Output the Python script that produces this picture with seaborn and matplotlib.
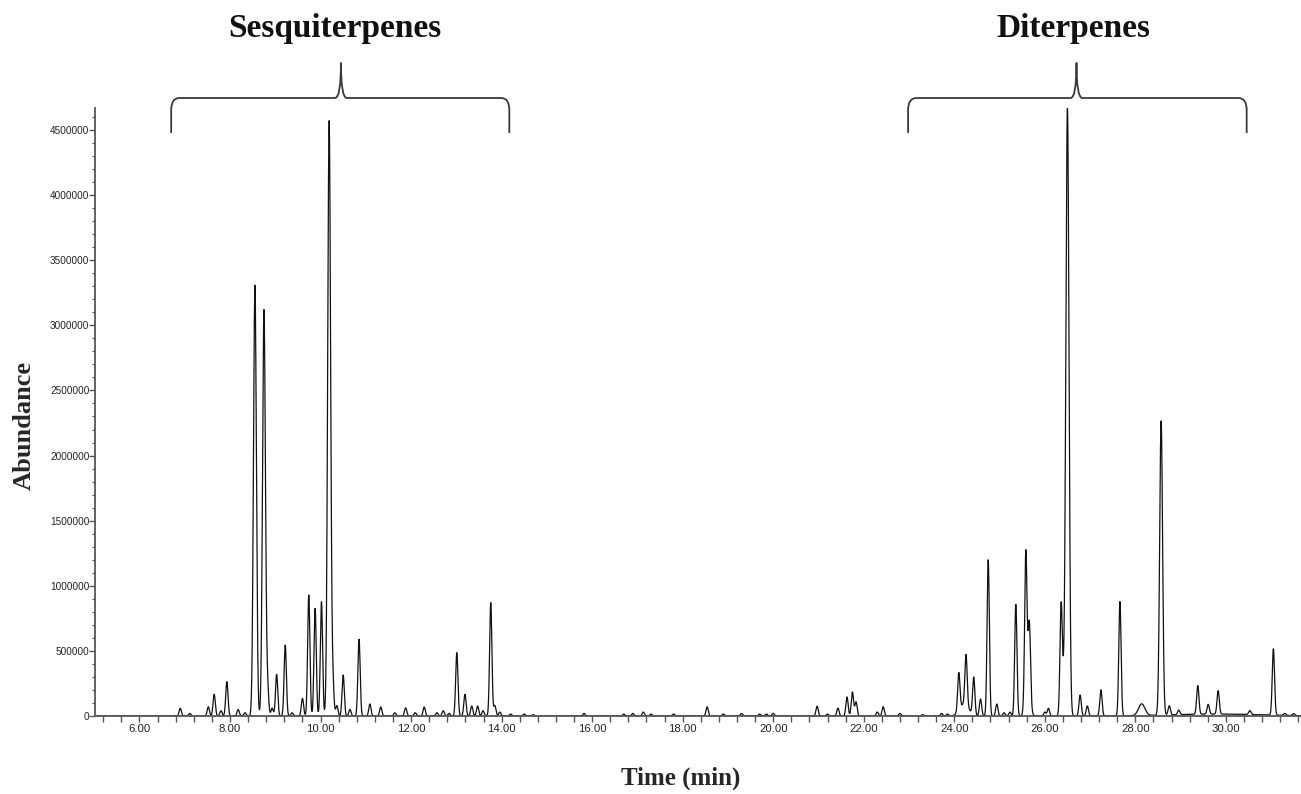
import numpy as np
import pandas as pd
import matplotlib
matplotlib.use("Agg")
import matplotlib.pyplot as plt
import seaborn as sns
from matplotlib.path import Path
from matplotlib.patches import PathPatch
from matplotlib.ticker import MultipleLocator, FormatStrFormatter
from matplotlib import transforms
from matplotlib import font_manager

# ---------------- data ----------------
# Sesquiterpene region peaks (retention time in min, abundance)
sesq_times = [6.90, 7.11, 7.52, 7.65, 7.80, 7.93, 8.18, 8.33, 8.55, 8.75,
              8.83, 8.93, 9.03, 9.22, 9.37, 9.60, 9.74, 9.88, 10.02, 10.19,
              10.27, 10.36, 10.50, 10.65, 10.85, 11.09, 11.33, 11.64, 11.88,
              12.09, 12.29, 12.57, 12.71, 12.84, 13.01, 13.19, 13.34, 13.47,
              13.59, 13.76, 13.85, 13.96]
sesq_heights = [59e3, 20e3, 71e3, 167e3, 40e3, 264e3, 50e3, 25e3, 3310e3, 3120e3,
                200e3, 60e3, 320e3, 545e3, 25e3, 136e3, 929e3, 827e3, 878e3, 4570e3,
                253e3, 80e3, 315e3, 50e3, 589e3, 92e3, 69e3, 25e3, 63e3,
                25e3, 69e3, 25e3, 40e3, 20e3, 486e3, 167e3, 77e3, 77e3,
                40e3, 870e3, 80e3, 30e3]
sesq_widths = [0.025] * 8 + [0.032, 0.032] + [0.025] * 9 + [0.032] + [0.025] * 22

# Minor peaks between the two groups
mid_times = [14.20, 14.50, 14.70, 15.82, 16.70, 16.90, 17.13, 17.30, 17.80,
             18.54, 18.90, 19.30, 19.70, 19.85, 20.00, 20.97, 21.20, 21.43,
             21.63, 21.75, 21.83, 22.30, 22.43, 22.80, 23.30, 23.72, 23.85]
mid_heights = [15e3, 15e3, 10e3, 20e3, 15e3, 20e3, 30e3, 15e3, 15e3,
               70e3, 15e3, 20e3, 15e3, 15e3, 20e3, 75e3, 15e3, 60e3,
               146e3, 184e3, 108e3, 30e3, 71e3, 20e3, 10e3, 20e3, 15e3]
mid_widths = [0.025] * len(mid_times)

# Diterpene region peaks
dit_times = [24.10, 24.26, 24.43, 24.58, 24.75, 24.94, 25.10, 25.23, 25.36,
             25.58, 25.66, 26.00, 26.08, 26.36, 26.50, 26.78, 26.94, 27.24,
             27.66, 28.14, 28.57, 28.75, 28.96, 29.38, 29.61, 29.83, 30.53,
             31.05, 31.30, 31.50]
dit_heights = [290e3, 390e3, 290e3, 130e3, 1200e3, 92e3, 25e3, 30e3, 858e3,
               1090e3, 540e3, 30e3, 59e3, 750e3, 4660e3, 161e3, 77e3, 200e3,
               878e3, 90e3, 2260e3, 70e3, 35e3, 220e3, 75e3, 180e3, 30e3,
               510e3, 15e3, 15e3]
dit_widths = [0.025] * 14 + [0.035] + [0.025] * 4 + [0.07] + [0.032] + [0.025] * 9

# Broad underlying humps / baseline drift
hump_times = [24.22, 25.62, 26.40, 29.80]
hump_heights = [90e3, 250e3, 200e3, 15e3]
hump_widths = [0.10, 0.05, 0.04, 1.00]

x_major = [6.00, 8.00, 10.00, 12.00, 14.00, 16.00, 18.00, 20.00, 22.00,
           24.00, 26.00, 28.00, 30.00]
y_major = [0, 500000, 1000000, 1500000, 2000000, 2500000, 3000000,
           3500000, 4000000, 4500000]

groups = ["Sesquiterpenes", "Diterpenes"]

# ---------------- build trace ----------------
peaks = pd.DataFrame({
    "rt": sesq_times + mid_times + dit_times + hump_times,
    "h": sesq_heights + mid_heights + dit_heights + hump_heights,
    "w": sesq_widths + mid_widths + dit_widths + hump_widths,
})
t = np.arange(5.0, 31.8, 0.003)
signal = np.zeros_like(t)
for rt, h, w in peaks[["rt", "h", "w"]].itertuples(index=False):
    signal += h * np.exp(-0.5 * ((t - rt) / w) ** 2)
trace = pd.DataFrame({"Time (min)": t, "Abundance": signal})

# ---------------- plot ----------------
sns.set_theme(style="ticks")
plt.rcParams["font.family"] = ["Liberation Sans", "DejaVu Sans"]

available = {f.name for f in font_manager.fontManager.ttflist}
narrow = "Liberation Sans Narrow" in available
ytick_family = "Liberation Sans Narrow" if narrow else "Liberation Sans"
ytick_size = 8.3 if narrow else 7.2

W, H = 1301, 794
fig = plt.figure(figsize=(W / 100, H / 100), dpi=100)
ax = fig.add_axes([95 / W, 1 - 716 / H, 1 - 95 / W, (716 - 108) / H])

sns.lineplot(data=trace, x="Time (min)", y="Abundance", ax=ax,
             color="#111111", linewidth=0.9, estimator=None, sort=False)

ax.set_xlim(5.017, 31.66)
ax.set_ylim(0, 4.669e6)

ax.set_xticks(x_major)
ax.xaxis.set_major_formatter(FormatStrFormatter("%.2f"))
ax.xaxis.set_minor_locator(MultipleLocator(0.4))
ax.set_yticks(y_major)
ax.set_yticklabels([str(v) for v in y_major])
ax.yaxis.set_minor_locator(MultipleLocator(100000))

for s in ["top", "right"]:
    ax.spines[s].set_visible(False)
for s in ["left", "bottom"]:
    ax.spines[s].set_color("#555555")
    ax.spines[s].set_linewidth(1.3)

ax.tick_params(axis="x", which="both", direction="out", length=4, width=1,
               color="#555555", labelsize=8.2, pad=2, labelcolor="#222222")
ax.tick_params(axis="y", which="major", direction="out", length=4, width=1,
               color="#555555", labelsize=ytick_size, pad=0, labelcolor="#222222")
ax.tick_params(axis="y", which="minor", direction="out", length=2.5, width=0.8,
               color="#555555")
for lab in ax.get_yticklabels():
    lab.set_family(ytick_family)

ax.set_xlabel("Time (min)", fontsize=18, fontweight="bold",
              family=["Liberation Serif", "DejaVu Serif"])
ax.set_ylabel("Abundance", fontsize=19, fontweight="bold",
              family=["Liberation Serif", "DejaVu Serif"])
ax.xaxis.set_label_coords((681 - 95) / 1206, -(767 - 716) / 608)
ax.yaxis.set_label_coords((36 - 95) / 1206, (716 - 425) / 608)

# ---------------- braces and group labels ----------------
blend = transforms.blended_transform_factory(ax.transData, fig.transFigure)


def fy(y_img):
    return 1 - y_img / H


def brace(x0, x1, xc):
    yb, ym, yt = fy(133), fy(98), fy(63)
    rx, ry = 0.18, 12 / H
    d = 0.13
    verts = [(x0, yb), (x0, ym - ry), (x0, ym), (x0 + rx, ym),
             (xc - d, ym), (xc, ym), (xc, yt),
             (xc, ym), (xc + d, ym),
             (x1 - rx, ym), (x1, ym), (x1, ym - ry), (x1, yb)]
    codes = [Path.MOVETO, Path.LINETO, Path.CURVE3, Path.CURVE3,
             Path.LINETO, Path.CURVE3, Path.CURVE3,
             Path.CURVE3, Path.CURVE3,
             Path.LINETO, Path.CURVE3, Path.CURVE3, Path.LINETO]
    patch = PathPatch(Path(verts, codes), transform=blend, fill=False,
                      edgecolor="#3a3a3a", linewidth=1.3, clip_on=False,
                      joinstyle="round", capstyle="butt")
    ax.add_patch(patch)


brace(6.70, 14.17, 10.45)
brace(22.98, 30.46, 26.70)

ax.text(10.32, fy(28), groups[0], transform=blend, ha="center", va="center",
        fontsize=24, fontweight="bold", family=["Liberation Serif", "DejaVu Serif"],
        color="#111111")
ax.text(26.64, fy(28), groups[1], transform=blend, ha="center", va="center",
        fontsize=24, fontweight="bold", family=["Liberation Serif", "DejaVu Serif"],
        color="#111111")

fig.savefig("out.png", dpi=100)
